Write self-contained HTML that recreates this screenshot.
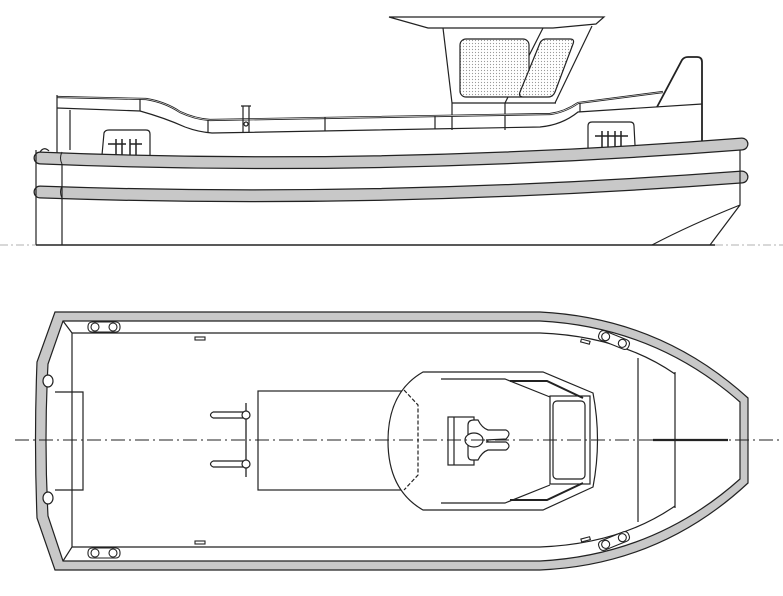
<!DOCTYPE html>
<html><head><style>html,body{margin:0;padding:0;background:#fff}svg{display:block}</style></head>
<body>
<svg width="783" height="596" viewBox="0 0 783 596" xmlns="http://www.w3.org/2000/svg" fill="none" stroke="#222" stroke-width="1.2">
<defs>
<pattern id="dots" width="3" height="3" patternUnits="userSpaceOnUse"><rect width="3" height="3" fill="#fff" stroke="none"/><circle cx="1.5" cy="1.5" r="0.6" fill="#999" stroke="none"/></pattern>
</defs>
<!-- ===== SIDE VIEW ===== -->
<path d="M389,17 L604,17 L596,24 L553,28 L428,28 Z"/>
<path d="M443,28 L452,103 L452,130"/>
<path d="M592,26 L555,103"/>
<path d="M543,28 L505,103 L505,130"/>
<path d="M452,103 L556,103"/>
<rect x="460" y="39" width="69" height="58" rx="6" fill="url(#dots)"/>
<path d="M546,39 L570,39 Q575,39 573,44 L555,92 Q553,97 548,97 L524,97 Q518,97 520,92 L540,43 Q542,39 546,39 Z" fill="url(#dots)"/>
<!-- rails -->
<path d="M57,97 L146,99 Q165,102 180,112 Q195,119 210,120 L550,114 Q565,112 578,103 L663,92" stroke-width="2.2"/>
<path d="M57,97 L146,99 Q165,102 180,112 Q195,119 210,120 L550,114 Q565,112 578,103 L663,92" stroke="#fff" stroke-width="0.6"/>
<path d="M57,108 L140,111 Q165,118 185,127 Q198,132 212,133 L540,127 Q562,125 578,112 L702,104"/>
<path d="M57,95 L57,153 M70,110 L70,150 M140,99 L140,111 M208,120 L208,133 M325,117 L325,131 M435,116 L435,129 M580,103 L580,112"/>
<path d="M243,106 L243,132 M249,106 L249,132 M241,106 L251,106"/>
<circle cx="246" cy="124" r="2"/>
<path d="M657,107 L682,60 Q684,57 688,57 L697,57 Q702,57 702,62 L702,142" stroke-width="1.8"/>
<path d="M102,155 L104,133 Q105,130 109,130 L146,130 Q150,130 150,134 L150,155"/>
<path d="M108,144 L126,144 M130,144 L142,144 M116,139 L116,155 M122,139 L122,155 M130,139 L130,155 M136,139 L136,155" stroke-width="1.5"/>
<path d="M588,148 L588,126 Q588,122 592,122 L630,122 Q634,122 634,126 L635,145"/>
<path d="M595,136 L628,136 M602,131 L602,148 M608,131 L608,148 M615,131 L615,148 M621,131 L621,148" stroke-width="1.5"/>
<path d="M40,158 Q380,172 742,144" stroke="#222" stroke-width="13" stroke-linecap="round"/>
<path d="M40,158 Q380,172 742,144" stroke="#c8c8c8" stroke-width="10.5" stroke-linecap="round"/>
<path d="M40,192 Q380,204 742,177" stroke="#222" stroke-width="13" stroke-linecap="round"/>
<path d="M40,192 Q380,204 742,177" stroke="#c8c8c8" stroke-width="10.5" stroke-linecap="round"/>
<path d="M62,152 Q59,158 62,164 M62,186 Q59,192 62,198" stroke-width="1"/>
<path d="M40,152 Q44,146 49,151" />
<path d="M36,150 L36,245 M62,164 L62,245 M62,198 L62,186"/>
<path d="M740,150 L740,205 L710,245 M740,205 Q690,225 652,245"/>
<path d="M36,245 L715,245" stroke-width="1.4"/>
<path d="M0,245 L36,245 M715,245 L783,245" stroke="#999" stroke-dasharray="8,3,2,3" stroke-width="0.8"/>

<!-- ===== PLAN VIEW ===== -->
<path d="M55,312 L540,312 Q660,318 748,398 L748,483 Q660,565 540,570 L55,570 L37,518 Q34,440 37,362 Z" fill="#c8c8c8"/>
<path d="M63,321 L540,321 Q655,327 740,402 L740,479 Q655,555 540,561 L63,561 L48,516 Q44,440 48,364 Z" fill="#fff"/>
<path d="M72,333 L540,333 Q620,336 675,374 M72,547 L540,547 Q620,544 675,506"/>
<path d="M63,321 L72,333 L72,547 L63,561"/>
<path d="M55,392 L83,392 L83,490 L55,490"/>
<path d="M638,358 L638,522 M675,372 L675,508"/>
<ellipse cx="48" cy="381" rx="5" ry="6" fill="#fff"/>
<ellipse cx="48" cy="498" rx="5" ry="6" fill="#fff"/>
<g stroke-width="1.1" fill="#fff">
<rect x="88" y="322" width="32" height="10" rx="4"/><circle cx="95" cy="327" r="4"/><circle cx="113" cy="327" r="4"/>
<rect x="88" y="548" width="32" height="10" rx="4"/><circle cx="95" cy="553" r="4"/><circle cx="113" cy="553" r="4"/>
<g transform="rotate(22 614 340)"><rect x="598" y="335" width="32" height="10" rx="4"/><circle cx="605" cy="340" r="4"/><circle cx="623" cy="340" r="4"/></g>
<g transform="rotate(-22 614 541)"><rect x="598" y="536" width="32" height="10" rx="4"/><circle cx="605" cy="541" r="4"/><circle cx="623" cy="541" r="4"/></g>
<rect x="195" y="337" width="10" height="3"/><rect x="195" y="541" width="10" height="3"/>
<rect x="581" y="340" width="9" height="3" transform="rotate(15 585 341)"/><rect x="581" y="538" width="9" height="3" transform="rotate(-15 585 539)"/>
</g>
<rect x="258" y="391" width="147" height="99"/>
<path d="M246,403 L246,477" stroke-width="1.3"/>
<path d="M213,412 L246,412 M213,418 L246,418 M213,461 L246,461 M213,467 L246,467"/>
<path d="M213,412 Q208,415 213,418 M213,461 Q208,464 213,467"/>
<circle cx="246" cy="415" r="4" fill="#fff"/><circle cx="246" cy="464" r="4" fill="#fff"/>
<path d="M423,372 L543,372 L593,393 Q602,440 593,487 L543,510 L423,510 Q388,490 388,441 Q388,392 423,372 Z" fill="#fff"/>
<path d="M404,390 L418,405 L418,475 L404,490" stroke-dasharray="4,2"/>
<path d="M441,379 L505,379 L550,397 M441,503 L505,503 L550,485"/>
<path d="M510,381 L547,381 L583,398 M510,500 L547,500 L583,483" stroke-width="2"/>
<rect x="550" y="396" width="40" height="88"/>
<rect x="553" y="401" width="32" height="78" rx="4"/>
<rect x="448" y="417" width="26" height="48"/>
<path d="M454,417 L454,465"/>
<path d="M468,425 Q468,420 474,420 L478,420 Q482,428 488,430 L506,430 Q512,433 506,439 L486,440 Q490,441 486,442 L506,442 Q512,446 506,450 L488,450 Q482,452 478,460 L472,460 Q468,460 468,455 Z" fill="#fff"/>
<ellipse cx="474" cy="440" rx="9" ry="7" fill="#fff"/>
<path d="M15,440 L783,440" stroke="#222" stroke-width="0.9" stroke-dasharray="14,4,2,4"/>
<path d="M653,440 L728,440" stroke-width="2.2"/>
</svg>
</body></html>
